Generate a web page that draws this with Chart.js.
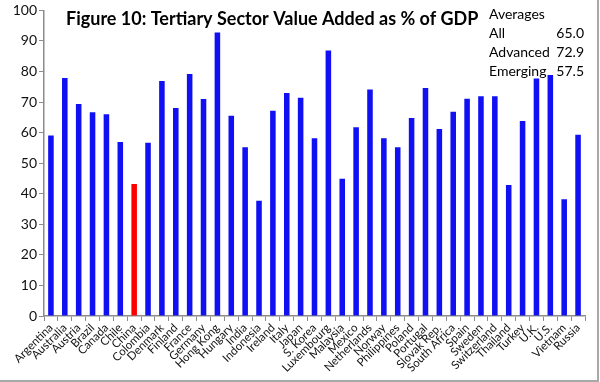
<!DOCTYPE html>
<html><head><meta charset="utf-8">
<script src="https://cdn.jsdelivr.net/npm/chart.js@4"></script>
<style>
html,body{margin:0;padding:0;background:#fff;}
#wrap{position:relative;width:597px;height:380px;border-right:2px solid #a8a8a8;border-bottom:2px solid #a8a8a8;overflow:hidden;}
</style></head>
<body>
<div id="wrap"><canvas id="c" width="597" height="380"></canvas></div>
<script>
const categories = ["Argentina","Australia","Austria","Brazil","Canada","Chile","China","Colombia","Denmark","Finland","France","Germany","Hong Kong","Hungary","India","Indonesia","Ireland","Italy","Japan","S. Korea","Luxembourg","Malaysia","Mexico","Netherlands","Norway","Philippines","Poland","Portugal","Slovak Rep.","South Africa","Spain","Sweden","Switzerland","Thailand","Turkey","U.K.","U.S.","Vietnam","Russia"];
const values = [59.1,77.9,69.4,66.7,66.0,56.9,43.2,56.7,76.9,68.1,79.2,71.0,92.8,65.5,55.2,37.7,67.2,73.0,71.4,58.2,86.9,44.9,61.8,74.1,58.2,55.2,64.8,74.6,61.2,66.8,71.1,71.9,71.9,42.9,63.8,77.7,78.9,38.2,59.3];
const highlight = "China";
const titleText = "Figure 10: Tertiary Sector Value Added as % of GDP";
const avgLabels = ["All","Advanced","Emerging"];
const avgValues = ["65.0","72.9","57.5"];
const yTicks = [0,10,20,30,40,50,60,70,80,90,100];

const overlay = {
  id:'overlay',
  afterDraw(chart){
    const ctx = chart.ctx;
    ctx.save();
    ctx.fillStyle = '#000';
    ctx.textBaseline = 'middle';
    ctx.font = 'bold 18px Lato';
    ctx.textAlign = 'left';
    ctx.fillText(titleText, 66, 19);
    ctx.font = '14px Lato';
    ctx.fillText("Averages", 489, 14);
    avgLabels.forEach((l,i)=>{
      const y = 33 + i*19;
      ctx.textAlign='left';
      ctx.fillText(l, 489, y);
      ctx.textAlign='right';
      ctx.fillText(avgValues[i], 584, y);
    });
    ctx.restore();
  }
};

new Chart(document.getElementById('c'), {
  type:'bar',
  data:{
    labels: categories,
    datasets:[{
      data: values,
      backgroundColor: categories.map(c => c===highlight ? '#ff0000' : '#1010f2'),
      barPercentage: 0.4,
      categoryPercentage: 1.0
    }]
  },
  options:{
    responsive:false,
    animation:false,
    devicePixelRatio:1,
    layout:{padding:{top:8,right:12,left:0,bottom:0}},
    plugins:{legend:{display:false},tooltip:{enabled:false},title:{display:false}},
    scales:{
      x:{
        grid:{display:true,drawOnChartArea:false,drawTicks:true,tickLength:5,color:'#8c8c8c',offset:true},
        border:{color:'#8c8c8c',width:1.5},
        ticks:{minRotation:45,maxRotation:45,autoSkip:false,color:'#111',font:{family:'Lato',size:11.5},padding:0},
        afterFit(s){ s.height = 64; }
      },
      y:{
        min:0,max:100,
        afterBuildTicks(s){ s.ticks = yTicks.map(v=>({value:v})); },
        grid:{display:true,drawOnChartArea:false,drawTicks:true,tickLength:5,color:'#8c8c8c'},
        border:{color:'#8c8c8c',width:1.5},
        ticks:{color:'#111',font:{family:'Lato',size:14},padding:2},
        afterFit(s){ s.width = 44; }
      }
    }
  },
  plugins:[overlay]
});
</script>
</body></html>
